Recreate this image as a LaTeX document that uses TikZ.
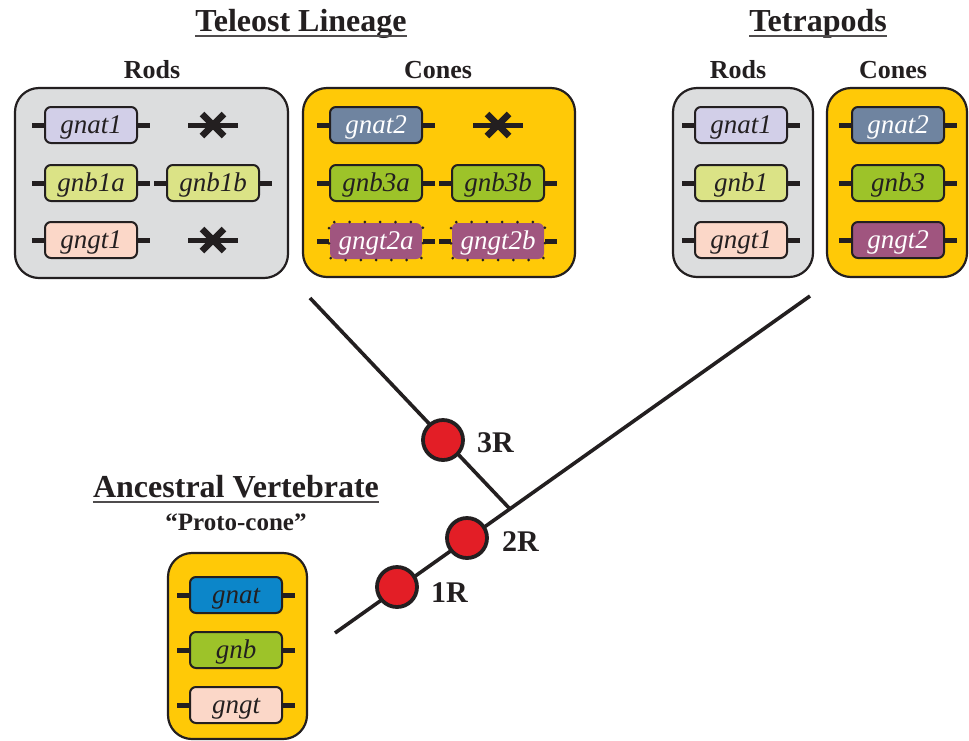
\documentclass[tikz,border=0pt]{standalone}
\usepackage{fontspec}
\setmainfont{Liberation Serif}
\definecolor{ink}{HTML}{231F20}
\definecolor{rodgrey}{HTML}{DCDDDE}
\definecolor{conegold}{HTML}{FFC907}
\definecolor{lav}{HTML}{D2CFE8}
\definecolor{lime}{HTML}{DBE386}
\definecolor{peach}{HTML}{FBD7C8}
\definecolor{slate}{HTML}{6F84A0}
\definecolor{leaf}{HTML}{9DC329}
\definecolor{mauve}{HTML}{A0557F}
\definecolor{azure}{HTML}{0C86C9}
\definecolor{dupred}{HTML}{E31E26}
\tikzset{
  panel/.style={draw=ink, line width=2.2pt, rounded corners=24pt},
  genebox/.style={draw=ink, line width=2pt, rounded corners=6pt,
    minimum width=92pt, minimum height=36pt, inner sep=0pt,
    text height=19pt, text depth=3pt,
    text=ink, font=\fontsize{27}{29}\selectfont\itshape},
  dotbox/.style={genebox, draw=none},
  stub/.style={draw=ink, line width=5pt},
  heading/.style={inner sep=0pt, anchor=base, text=ink,
    font=\fontsize{32}{34}\selectfont\bfseries},
  sublabel/.style={inner sep=0pt, anchor=base, text=ink,
    font=\fontsize{26}{28}\selectfont\bfseries},
  branch/.style={draw=ink, line width=3.6pt},
  dup/.style={circle, draw=ink, line width=3.8pt, fill=dupred,
    minimum size=40pt, inner sep=0pt},
  duplabel/.style={inner sep=0pt, anchor=west, text=ink,
    font=\fontsize{30}{32}\selectfont\bfseries},
}
% gene symbol: box with short stubs on either side
\newcommand\genesym[5][genebox]{%
  \node[#1, fill=#4] (#2) at (#3) {#5};
  \draw[stub] ([xshift=-12pt]#2.west) -- (#2.west);
  \draw[stub] (#2.east) -- ([xshift=12pt]#2.east);}
% gene lost: struck-through stub
\newcommand\genelost[2]{%
  \coordinate (#1) at (#2);
  \draw[stub] ([xshift=-25pt]#1) -- ([xshift=25pt]#1);
  \draw[draw=ink, line width=6.5pt] ([shift={(-11pt,-11pt)}]#1) -- ([shift={(11pt,11pt)}]#1);
  \draw[draw=ink, line width=6.5pt] ([shift={(-11pt,11pt)}]#1) -- ([shift={(11pt,-11pt)}]#1);}
% underlined heading
\newcommand\heading[3]{%
  \node[heading] (#1) at (#2) {#3};
  \draw[draw=ink!80, line width=1.6pt] ([yshift=-5pt]#1.base west) -- ([yshift=-5pt]#1.base east);}
\begin{document}
\begin{tikzpicture}[x=1pt, y=-1pt]
\useasboundingbox[fill=white] (0,0) rectangle (969,740);

% ---------- Teleost lineage ----------
\heading{teleost}{301,31}{Teleost Lineage}
\node[sublabel] (tRodsLbl) at (152,78) {Rods};
\node[sublabel] (tConesLbl) at (438,78) {Cones};
\draw[panel, fill=rodgrey] (15,88) rectangle (288,278);
\draw[panel, fill=conegold] (303,88) rectangle (575,277);

\genesym{tgnatA}{91,125}{lav}{gnat1}
\genelost{tlostA}{213,125}
\genesym{tgnbA}{91,183}{lime}{gnb1a}
\genesym{tgnbB}{213,183}{lime}{gnb1b}
\genesym{tgngtA}{91,240}{peach}{gngt1}
\genelost{tlostB}{213,240}

\genesym{tgnatC}{376,125}{slate}{\textcolor{white}{gnat2}}
\genelost{tlostC}{498,125}
\genesym{tgnbC}{376,183}{leaf}{gnb3a}
\genesym{tgnbD}{498,183}{leaf}{gnb3b}
\genesym[dotbox]{tgngtC}{376,241}{mauve}{\textcolor{white}{gngt2a}}
\genesym[dotbox]{tgngtD}{498,241}{mauve}{\textcolor{white}{gngt2b}}
\foreach \n in {tgngtC,tgngtD}
  \draw[ink, line width=3pt, line cap=round, dash pattern=on 0pt off 15.3pt,
        rounded corners=6pt] (\n.north west) rectangle (\n.south east);

% ---------- Tetrapods ----------
\heading{tetra}{818,31}{Tetrapods}
\node[sublabel] (qRodsLbl) at (738,78) {Rods};
\node[sublabel] (qConesLbl) at (893,78) {Cones};
\draw[panel, fill=rodgrey] (673,88) rectangle (813,277);
\draw[panel, fill=conegold] (827,88) rectangle (967,277);

\genesym{qgnatA}{741,125}{lav}{gnat1}
\genesym{qgnbA}{741,183}{lime}{gnb1}
\genesym{qgngtA}{741,240}{peach}{gngt1}
\genesym{qgnatC}{898,125}{slate}{\textcolor{white}{gnat2}}
\genesym{qgnbC}{898,183}{leaf}{gnb3}
\genesym{qgngtC}{898,240}{mauve}{\textcolor{white}{gngt2}}

% ---------- Ancestral vertebrate ----------
\heading{ances}{236,497}{Ancestral Vertebrate}
\node[sublabel, font=\fontsize{25}{27}\selectfont\bfseries] (proto) at (236,530) {“Proto-cone”};
\draw[panel, fill=conegold] (168,553) rectangle (307,739);
\genesym{agnat}{236,595}{azure}{gnat}
\genesym{agnb}{236,650}{leaf}{gnb}
\genesym{agngt}{236,705}{peach}{gngt}

% ---------- Tree with genome duplications ----------
\coordinate (root) at (335,633);
\coordinate (tetraTip) at (810,296);
\coordinate (teleTip) at (310,298);
\coordinate (split) at (510,509);
\draw[branch] (root) -- (tetraTip);
\draw[branch] (teleTip) -- (split);
\node[dup] (wgdC) at (443,440) {};
\node[dup] (wgdB) at (467,538) {};
\node[dup] (wgdA) at (397,587) {};
\node[duplabel] (lblC) at (477,443) {3R};
\node[duplabel] (lblB) at (502,542) {2R};
\node[duplabel] (lblA) at (431,593) {1R};
\end{tikzpicture}
\end{document}
